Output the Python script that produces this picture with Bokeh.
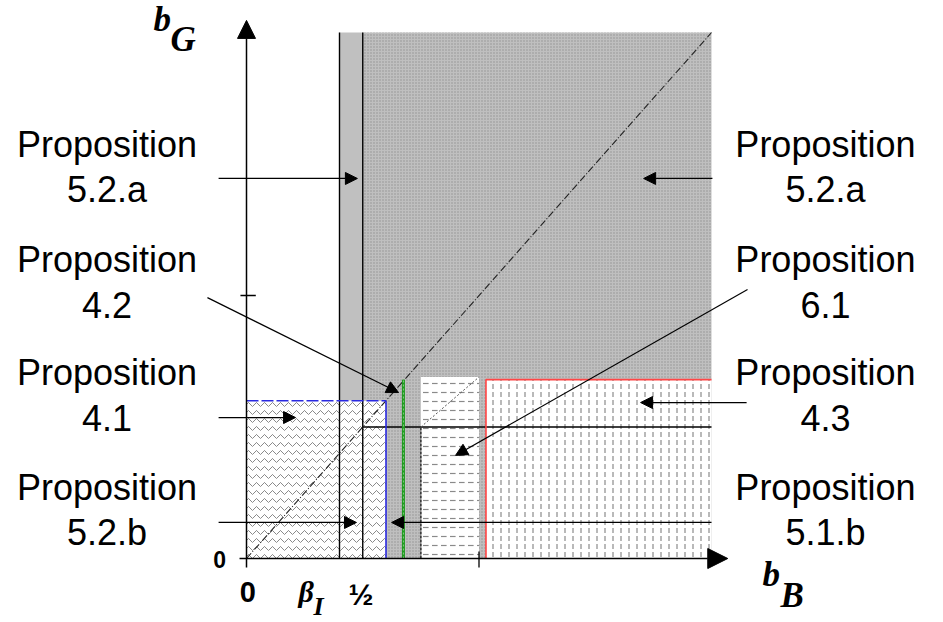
from bokeh.plotting import figure
from bokeh.models import Range1d, ColumnDataSource, Arrow, NormalHead
from bokeh.core.properties import value
from bokeh.embed import file_html
from bokeh.resources import INLINE

# ---------------- data (diagram units: b_B horizontally, b_G vertically) ----------------
beta_I = 0.40
half = 0.5
blue_x = 0.6
green_x = 0.675
dash_x = 0.75
box_right = 1.0
red_x = 1.03
x_max = 2.0
y_max = 2.0
blue_top = 0.6
green_top = 0.68
box_top = 0.69
red_top = 0.68
h_line_y = 0.5

# regions: left, right, bottom, top
reg_left = [half, beta_I, 0.0, dash_x, red_x]
reg_right = [x_max, half, blue_x, box_right, x_max]
reg_bottom = [0.0, blue_top, 0.0, 0.0, 0.0]
reg_top = [y_max, y_max, blue_top, box_top, red_top]

# labels
left_numbers = ["5.2.a", "4.2", "4.1", "5.2.b"]
right_numbers = ["5.2.a", "6.1", "4.3", "5.1.b"]
row_word_y = [1.574, 1.136, 0.707, 0.270]
row_num_y = [1.403, 0.965, 0.536, 0.098]

# pointer arrows (start -> end)
arr_x0 = [-0.12, 2.004, -0.168, 2.155, -0.12, 2.151, -0.12, 2.0]
arr_y0 = [1.445, 1.445, 0.992, 1.023, 0.536, 0.593, 0.137, 0.137]
arr_x1 = [0.477, 1.708, 0.654, 0.899, 0.211, 1.695, 0.473, 0.624]
arr_y1 = [1.445, 1.445, 0.631, 0.392, 0.536, 0.593, 0.137, 0.137]

x_ticks = [1.0]
y_ticks = [1.0]

# ---------------- figure ----------------
W, H = 943, 622
XU, YU = 232.5, 263.0
OX, OY = 246.0, 558.0

p = figure(width=W, height=H, output_backend="svg", toolbar_location=None,
           x_range=Range1d(-OX / XU, (W - OX) / XU),
           y_range=Range1d(-(H - OY) / YU, OY / YU),
           x_axis_location=None, y_axis_location=None, min_border=0)
p.outline_line_color = None
p.grid.visible = False
p.background_fill_color = "white"
p.border_fill_color = "white"

# big gray (dotted) region  – Proposition 5.2.a
p.quad(left=[reg_left[0]], right=[reg_right[0]], bottom=[reg_bottom[0]], top=[reg_top[0]],
       fill_color="#bfbfbf", line_color=None,
       hatch_pattern="dot", hatch_color="#909090", hatch_scale=3, hatch_weight=1)
# solid gray strip
p.quad(left=[reg_left[1]], right=[reg_right[1]], bottom=[reg_bottom[1]], top=[reg_top[1]],
       fill_color="#c0c0c0", line_color=None)
# wavy – Proposition 4.1
p.quad(left=[reg_left[2]], right=[reg_right[2]], bottom=[reg_bottom[2]], top=[reg_top[2]],
       fill_color="white", line_color=None,
       hatch_pattern="horizontal_wave", hatch_color="#8a8a8a", hatch_scale=8, hatch_weight=1)
# horizontal dashes – Proposition 6.1
p.quad(left=[reg_left[3]], right=[reg_right[3]], bottom=[reg_bottom[3]], top=[reg_top[3]],
       fill_color="white", line_color=None,
       hatch_pattern="horizontal_dash", hatch_color="#8a8a8a", hatch_scale=9, hatch_weight=1.2)
# vertical dashes – Proposition 4.3
p.quad(left=[reg_left[4]], right=[reg_right[4]], bottom=[reg_bottom[4]], top=[reg_top[4]],
       fill_color="white", line_color=None,
       hatch_pattern="vertical_dash", hatch_color="#8a8a8a", hatch_scale=8, hatch_weight=1.2)

# boundary lines
p.segment(x0=[beta_I, half], y0=[0, 0], x1=[beta_I, half], y1=[y_max, y_max],
          line_color="black", line_width=1.4)
p.segment(x0=[half], y0=[h_line_y], x1=[x_max], y1=[h_line_y], line_color="black", line_width=1.3)
p.segment(x0=[dash_x], y0=[0], x1=[dash_x], y1=[h_line_y], line_color="#333333",
          line_width=1.6, line_dash="3 1")
# diagonal b_G = b_B
p.line(x=[0, x_max], y=[0, y_max], line_color="#222222", line_width=1.1, line_dash="7 2 1 2")
p.line(x=[dash_x, box_right], y=[h_line_y, box_top], line_color="#555555", line_width=1,
       line_dash="2 2")
# blue, green, red boundaries
p.line(x=[0, blue_x], y=[blue_top, blue_top], line_color="#2a2ae0", line_width=1.6, line_dash="12 3")
p.line(x=[blue_x, blue_x], y=[blue_top, 0], line_color="#2a2ae0", line_width=1.6)
p.line(x=[green_x, green_x], y=[0, green_top], line_color="#1f9a1f", line_width=3)
p.line(x=[green_x, green_x], y=[0, green_top], line_color="#9ad89a", line_width=0.8, line_dash="2 2")
p.line(x=[red_x, red_x, x_max], y=[0, red_top, red_top], line_color="#ff4545", line_width=1.6)

# axes with arrow heads
p.add_layout(Arrow(end=NormalHead(size=18, fill_color="black", line_color="black"),
                   x_start=0, y_start=-0.034, x_end=0, y_end=2.046,
                   line_color="black", line_width=1.5))
p.add_layout(Arrow(end=NormalHead(size=20, fill_color="black", line_color="black"),
                   x_start=-0.03, y_start=0, x_end=2.07, y_end=0,
                   line_color="black", line_width=1.5))
p.segment(x0=[-0.026] * len(y_ticks), y0=y_ticks, x1=[0.04] * len(y_ticks), y1=y_ticks,
          line_color="black", line_width=1.3)
p.segment(x0=x_ticks, y0=[-0.034] * len(x_ticks), x1=x_ticks, y1=[0.027] * len(x_ticks),
          line_color="black", line_width=1.3)

# pointer arrows
src = ColumnDataSource(dict(x0=arr_x0, y0=arr_y0, x1=arr_x1, y1=arr_y1))
p.add_layout(Arrow(end=NormalHead(size=12, fill_color="black", line_color="black"),
                   source=src, x_start="x0", y_start="y0", x_end="x1", y_end="y1",
                   line_color="black", line_width=1.2))

# proposition labels
sans = value("Liberation Sans")
p.text(x=[-0.60] * 4 + [2.49] * 4, y=row_word_y + row_word_y, text=["Proposition"] * 8,
       text_font=sans, text_font_size=value("36px"), text_align="center",
       text_baseline="alphabetic", text_color="black")
p.text(x=[-0.60] * 4 + [2.49] * 4, y=row_num_y + row_num_y, text=left_numbers + right_numbers,
       text_font=sans, text_font_size=value("36px"), text_align="center",
       text_baseline="alphabetic", text_color="black")

# tick labels
p.text(x=[0.006], y=[-0.128], text=["0"], text_font=sans, text_font_size=value("29px"),
       text_font_style="bold", text_align="center", text_baseline="alphabetic")
p.text(x=[-0.116], y=[-0.003], text=["0"], text_font=sans, text_font_size=value("23px"),
       text_font_style="bold", text_align="center", text_baseline="alphabetic")
p.text(x=[0.492], y=[-0.138], text=["½"], text_font=sans, text_font_size=value("30px"),
       text_font_style="bold", text_align="center", text_baseline="alphabetic")

serif = value("Liberation Serif")
# beta_I
p.text(x=[0.224], y=[-0.126], text=["β"], text_font=serif, text_font_size=value("30px"),
       text_font_style="bold italic", text_align="left", text_baseline="alphabetic")
p.text(x=[0.288], y=[-0.181], text=["I"], text_font=serif, text_font_size=value("26px"),
       text_font_style="bold italic", text_align="left", text_baseline="alphabetic")
# b_G
p.text(x=[-0.40], y=[2.048], text=["b"], text_font=serif, text_font_size=value("35px"),
       text_font_style="bold italic", text_align="left", text_baseline="alphabetic")
p.text(x=[-0.327], y=[1.972], text=["G"], text_font=serif, text_font_size=value("35px"),
       text_font_style="bold italic", text_align="left", text_baseline="alphabetic")
# b_B
p.text(x=[2.219], y=[-0.062], text=["b"], text_font=serif, text_font_size=value("35px"),
       text_font_style="bold italic", text_align="left", text_baseline="alphabetic")
p.text(x=[2.297], y=[-0.142], text=["B"], text_font=serif, text_font_size=value("35px"),
       text_font_style="bold italic", text_align="left", text_baseline="alphabetic")

open("out.html", "w").write(file_html(p, INLINE))
